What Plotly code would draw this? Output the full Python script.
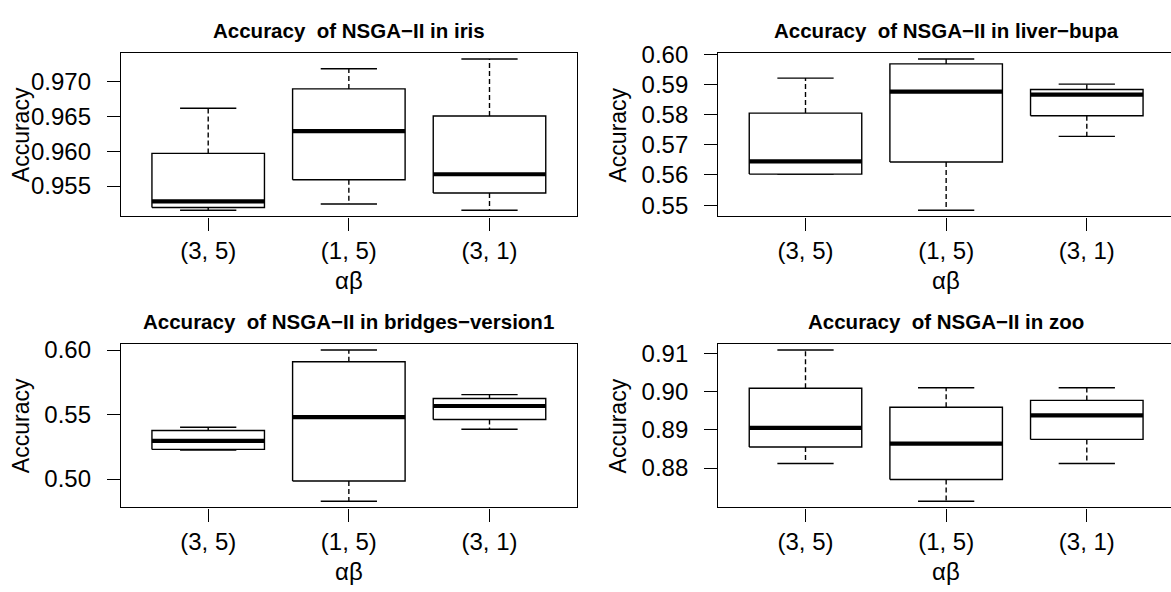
import plotly.graph_objects as go

W, H = 1171, 592

categories = ["(3, 5)", "(1, 5)", "(3, 1)"]

titles = [
    "Accuracy  of NSGA\u2212II in iris",
    "Accuracy  of NSGA\u2212II in liver\u2212bupa",
    "Accuracy  of NSGA\u2212II in bridges\u2212version1",
    "Accuracy  of NSGA\u2212II in zoo",
]

# iris
iris_low = [0.9515, 0.9524, 0.9515]
iris_q1 = [0.9519, 0.9559, 0.9540]
iris_med = [0.9528, 0.9629, 0.9567]
iris_q3 = [0.9597, 0.9690, 0.9651]
iris_up = [0.9662, 0.9719, 0.9733]

# liver-bupa
liver_low = [0.5603, 0.5483, 0.5728]
liver_q1 = [0.5603, 0.5643, 0.5796]
liver_med = [0.5645, 0.5876, 0.5866]
liver_q3 = [0.5805, 0.5968, 0.5883]
liver_up = [0.5921, 0.5984, 0.5901]

# bridges-version1
bridges_low = [0.5225, 0.4828, 0.5386]
bridges_q1 = [0.5230, 0.4985, 0.5462]
bridges_med = [0.5296, 0.5480, 0.5566]
bridges_q3 = [0.5376, 0.5909, 0.5624]
bridges_up = [0.5402, 0.6000, 0.5654]

# zoo
zoo_low = [0.8812, 0.8713, 0.8812]
zoo_q1 = [0.8855, 0.8770, 0.8875]
zoo_med = [0.8905, 0.8864, 0.8938]
zoo_q3 = [0.9009, 0.8959, 0.8977]
zoo_up = [0.9109, 0.9010, 0.9010]

iris_ticks = [0.955, 0.960, 0.965, 0.970]
liver_ticks = [0.55, 0.56, 0.57, 0.58, 0.59, 0.60]
bridges_ticks = [0.50, 0.55, 0.60]
zoo_ticks = [0.88, 0.89, 0.90, 0.91]

panels = [
    (iris_low, iris_q1, iris_med, iris_q3, iris_up, iris_ticks, ".3f"),
    (liver_low, liver_q1, liver_med, liver_q3, liver_up, liver_ticks, ".2f"),
    (bridges_low, bridges_q1, bridges_med, bridges_q3, bridges_up, bridges_ticks, ".2f"),
    (zoo_low, zoo_q1, zoo_med, zoo_q3, zoo_up, zoo_ticks, ".2f"),
]

# pixel layout of plot regions
UNIT = 140.65  # px per category unit
LEFT_X = [121.0, 718.3]
TOP_Y = [42.0, 340.0]
PLOT_H = 167.3
FONT = "Liberation Sans, Arial, Helvetica, sans-serif"
TICK_SIZE = 24
LW = 1.4
BOXW = 0.4
CAPW = 0.2

fig = go.Figure()
annotations = []
layout_axes = {}

for k, (lo, q1, med, q3, up, ticks, fmt) in enumerate(panels):
    row, col = divmod(k, 2)
    ax = "" if k == 0 else str(k + 1)
    xa, ya = "x" + ax, "y" + ax
    left = LEFT_X[col]
    full_right = left + 3.24 * UNIT
    right = min(full_right, W)
    top = TOP_Y[row]
    bottom = top + PLOT_H
    xr = [0.38, 0.38 + (right - left) / UNIT]
    mn, mx = min(lo), max(up)
    ext = 0.04 * (mx - mn)
    yr = [mn - ext, mx + ext]
    pos = [1, 2, 3]

    # whiskers (dashed)
    wx, wy = [], []
    for i in range(3):
        wx += [pos[i], pos[i], None, pos[i], pos[i], None]
        wy += [q3[i], up[i], None, q1[i], lo[i], None]
    fig.add_trace(go.Scatter(x=wx, y=wy, mode="lines", xaxis=xa, yaxis=ya,
                             line=dict(color="black", width=LW, dash="5px,3px"),
                             hoverinfo="skip", showlegend=False))
    # caps
    cx, cy = [], []
    for i in range(3):
        cx += [pos[i] - CAPW, pos[i] + CAPW, None, pos[i] - CAPW, pos[i] + CAPW, None]
        cy += [up[i], up[i], None, lo[i], lo[i], None]
    fig.add_trace(go.Scatter(x=cx, y=cy, mode="lines", xaxis=xa, yaxis=ya,
                             line=dict(color="black", width=LW),
                             hoverinfo="skip", showlegend=False))
    # boxes
    for i in range(3):
        fig.add_trace(go.Scatter(
            x=[pos[i] - BOXW, pos[i] + BOXW, pos[i] + BOXW, pos[i] - BOXW, pos[i] - BOXW],
            y=[q1[i], q1[i], q3[i], q3[i], q1[i]],
            mode="lines", fill="toself", fillcolor="white", xaxis=xa, yaxis=ya,
            line=dict(color="black", width=LW), hoverinfo="skip", showlegend=False))
    # medians
    mxs, mys = [], []
    for i in range(3):
        mxs += [pos[i] - BOXW, pos[i] + BOXW, None]
        mys += [med[i], med[i], None]
    fig.add_trace(go.Scatter(x=mxs, y=mys, mode="lines", xaxis=xa, yaxis=ya,
                             line=dict(color="black", width=4.2),
                             hoverinfo="skip", showlegend=False))

    xdom = [left / W, right / W]
    ydom = [1 - bottom / H, 1 - top / H]
    layout_axes["xaxis" + ax] = dict(
        domain=xdom, range=xr, anchor=ya, tickmode="array", tickvals=pos,
        ticktext=categories, ticks="outside", ticklen=13, tickwidth=LW,
        tickcolor="black", showline=True, linecolor="black", linewidth=LW,
        mirror=True, showgrid=False, zeroline=False, ticklabelstandoff=0,
        tickfont=dict(family=FONT, size=TICK_SIZE, color="black"), fixedrange=True)
    layout_axes["yaxis" + ax] = dict(
        domain=ydom, range=yr, anchor=xa, tickmode="array", tickvals=ticks,
        tickformat=fmt, ticks="outside", ticklen=13, tickwidth=LW,
        tickcolor="black", showline=True, linecolor="black", linewidth=LW,
        mirror=(col == 0), showgrid=False, zeroline=False, ticklabelstandoff=11,
        tickfont=dict(family=FONT, size=TICK_SIZE, color="black"), fixedrange=True)

    xc = (left + full_right) / 2 / W
    annotations.append(dict(text="<b>" + titles[k] + "</b>", x=xc,
                            y=1 - (top - 23) / H, xref="paper", yref="paper",
                            xanchor="center", yanchor="middle", showarrow=False,
                            font=dict(family=FONT, size=20.5, color="black")))
    annotations.append(dict(text="\u03b1\u03b2", x=xc,
                            y=1 - (bottom + 66) / H, xref="paper", yref="paper",
                            xanchor="center", yanchor="middle", showarrow=False,
                            font=dict(family=FONT, size=TICK_SIZE, color="black")))
    annotations.append(dict(text="Accuracy", x=(left - 100.5) / W,
                            y=1 - (top + PLOT_H / 2) / H, xref="paper", yref="paper",
                            xanchor="center", yanchor="middle", showarrow=False,
                            textangle=-90,
                            font=dict(family=FONT, size=23, color="black")))

fig.update_layout(
    width=W, height=H, margin=dict(l=0, r=0, t=0, b=0, pad=0),
    plot_bgcolor="white", paper_bgcolor="white",
    annotations=annotations, showlegend=False, **layout_axes)

fig.write_html("out.html", config={"displayModeBar": False})
